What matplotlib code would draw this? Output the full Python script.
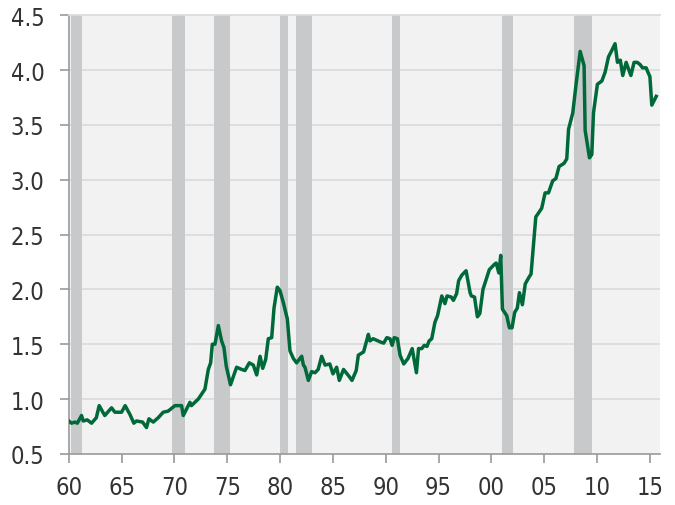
import matplotlib
matplotlib.use("Agg")
import matplotlib.pyplot as plt

# values (year, ratio)
years = [
    1960.0, 1960.25, 1960.57, 1960.8, 1961.2, 1961.36, 1961.74, 1962.15, 1962.6, 1962.87,
    1963.4, 1964.04, 1964.36, 1964.99, 1965.33, 1965.78, 1966.15, 1966.4, 1966.98, 1967.35,
    1967.58, 1967.99, 1968.46, 1968.93, 1969.4, 1970.04, 1970.67, 1970.83, 1971.46, 1971.6,
    1972.25, 1972.88, 1973.2, 1973.42, 1973.58, 1973.83, 1974.15, 1974.46, 1974.68, 1974.9,
    1975.3, 1975.88, 1976.36, 1976.67, 1977.08, 1977.46, 1977.78, 1978.1, 1978.35, 1978.63,
    1978.88, 1979.2, 1979.42, 1979.73, 1979.98, 1980.3, 1980.68, 1980.93, 1981.25, 1981.56,
    1981.88, 1982.04, 1982.2, 1982.35, 1982.67, 1982.98, 1983.3, 1983.6, 1983.93, 1984.25,
    1984.7, 1985.0, 1985.35, 1985.6, 1986.0, 1986.5, 1986.8, 1987.2, 1987.4, 1987.9,
    1988.35, 1988.5, 1988.8, 1989.5, 1989.8, 1990.1, 1990.4, 1990.6, 1990.8, 1991.1,
    1991.35, 1991.7, 1992.1, 1992.5, 1992.9, 1993.1, 1993.4, 1993.65, 1993.9, 1994.1,
    1994.35, 1994.65, 1994.9, 1995.3, 1995.6, 1995.8, 1996.2, 1996.4, 1996.7, 1996.9,
    1997.2, 1997.6, 1997.98, 1998.1, 1998.4, 1998.67, 1998.9, 1999.2, 1999.8, 2000.3,
    2000.45, 2000.7, 2000.88, 2001.04, 2001.45, 2001.7, 2001.95, 2002.2, 2002.45, 2002.65,
    2002.93, 2003.2, 2003.55, 2003.75, 2004.0, 2004.2, 2004.76, 2005.08, 2005.4, 2005.8,
    2006.1, 2006.4, 2006.88, 2007.13, 2007.3, 2007.7, 2008.0, 2008.4, 2008.77, 2008.87,
    2009.28, 2009.5, 2009.66, 2010.03, 2010.45, 2010.76, 2011.08, 2011.4, 2011.7, 2011.93,
    2012.2, 2012.43, 2012.75, 2013.2, 2013.5, 2013.8, 2014.07, 2014.3, 2014.65, 2014.77,
    2015.0, 2015.18, 2015.6,
]
values = [
    0.80, 0.78, 0.79, 0.78, 0.85, 0.80, 0.81, 0.78, 0.83, 0.94,
    0.85, 0.92, 0.88, 0.88, 0.94, 0.86, 0.78, 0.80, 0.79, 0.74,
    0.82, 0.79, 0.83, 0.88, 0.89, 0.94, 0.94, 0.85, 0.97, 0.94,
    1.00, 1.09, 1.27, 1.33, 1.50, 1.50, 1.67, 1.53, 1.47, 1.30,
    1.13, 1.29, 1.27, 1.26, 1.33, 1.31, 1.22, 1.39, 1.28, 1.36,
    1.55, 1.56, 1.83, 2.02, 1.99, 1.88, 1.73, 1.44, 1.37, 1.33,
    1.37, 1.39, 1.31, 1.29, 1.17, 1.25, 1.24, 1.27, 1.39, 1.31,
    1.32, 1.23, 1.29, 1.17, 1.27, 1.21, 1.17, 1.26, 1.40, 1.43,
    1.59, 1.53, 1.55, 1.52, 1.51, 1.56, 1.55, 1.49, 1.56, 1.55,
    1.40, 1.32, 1.37, 1.46, 1.24, 1.46, 1.46, 1.49, 1.48, 1.53,
    1.55, 1.70, 1.76, 1.94, 1.87, 1.94, 1.93, 1.90, 1.96, 2.08,
    2.13, 2.17, 1.97, 1.94, 1.93, 1.75, 1.78, 2.00, 2.18, 2.23,
    2.24, 2.15, 2.31, 1.82, 1.76, 1.65, 1.65, 1.79, 1.83, 1.97,
    1.86, 2.05, 2.11, 2.14, 2.43, 2.66, 2.74, 2.88, 2.88, 2.99,
    3.01, 3.12, 3.15, 3.19, 3.46, 3.61, 3.86, 4.17, 4.04, 3.45,
    3.20, 3.23, 3.61, 3.87, 3.90, 3.98, 4.12, 4.18, 4.24, 4.07,
    4.09, 3.95, 4.07, 3.95, 4.07, 4.07, 4.05, 4.02, 4.02, 3.99,
    3.94, 3.68, 3.76,
]

# recession periods (start, end)
recessions = [
    (1960.25, 1961.2), (1969.8, 1971.0), (1973.75, 1975.25), (1980.0, 1980.75),
    (1981.5, 1983.0), (1990.6, 1991.3), (2001.0, 2002.05), (2007.8, 2009.55),
]

x_ticks = list(range(1960, 2016, 5))
x_labels = [f"{y % 100:02d}" for y in x_ticks]
y_ticks = [0.5, 1.0, 1.5, 2.0, 2.5, 3.0, 3.5, 4.0, 4.5]

plt.rcParams['font.family'] = ['DejaVu Sans']
plt.rcParams['font.stretch'] = 'condensed'

fig = plt.figure(figsize=(6.75, 5.06), dpi=100)
ax = fig.add_axes([0.102, 0.101, 0.876, 0.867])
ax.set_facecolor('#f2f2f2')

for y in y_ticks[1:-1]:
    ax.axhline(y, color='#dcdcdc', lw=1.3, zorder=0)

for a, b in recessions:
    ax.axvspan(a, b, color='#c8c9cb', lw=0, zorder=1)

ax.plot(years, values, color='#00693a', lw=2.5, zorder=3, solid_joinstyle='round')

ax.set_xlim(1960, 2015.97)
ax.set_ylim(0.5, 4.5)
ax.set_xticks(x_ticks)
ax.set_xticklabels(x_labels)
ax.set_yticks(y_ticks)
ax.set_yticklabels([f"{v:.1f}" for v in y_ticks])

ax.spines['right'].set_visible(False)
ax.spines['top'].set_color('#dcdcdc')
ax.spines['top'].set_linewidth(1.3)
for s in ('left', 'bottom'):
    ax.spines[s].set_color('#9a9a9a')
    ax.spines[s].set_linewidth(1.2)

ax.tick_params(axis='both', colors='#9a9a9a', labelcolor='#333333',
               labelsize=17, length=6.5, width=1.2)
ax.tick_params(axis='y', pad=11)
ax.tick_params(axis='x', pad=9)

fig.savefig('out.png', dpi=100)
plt.close(fig)
